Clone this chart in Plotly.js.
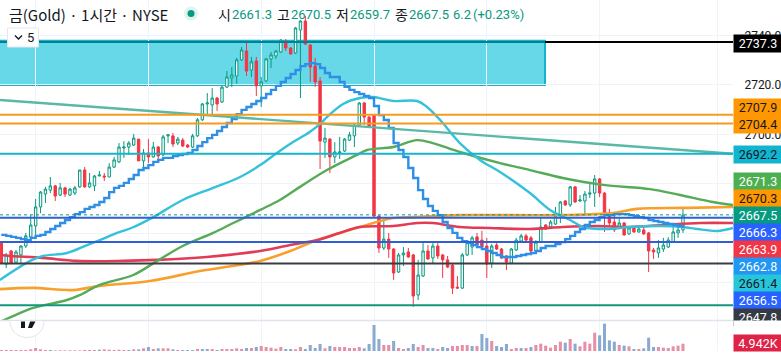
<!DOCTYPE html>
<html><head><meta charset="utf-8">
<script src="https://cdn.plot.ly/plotly-3.0.1.min.js"></script>
<style>html,body{margin:0;padding:0;background:#fff;overflow:hidden}#c{width:781px;height:353px}</style>
</head><body><div id="c"></div>
<script>
const opens=[2656.1,2647.6,2652.9,2648.4,2651.3,2654.9,2658.6,2663.0,2670.7,2675.9,2677.5,2679.2,2675.5,2678.4,2675.5,2676.3,2678.8,2685.6,2678.8,2679.2,2683.2,2683.2,2682.8,2686.8,2688.9,2694.5,2694.9,2695.7,2698.1,2689.3,2692.5,2690.9,2694.9,2691.7,2699.4,2699.4,2696.5,2697.7,2695.7,2694.9,2699.4,2705.9,2712.3,2711.9,2714.7,2713.1,2719.1,2722.8,2723.6,2730.1,2733.7,2726.0,2729.7,2719.6,2721.6,2730.5,2731.7,2733.3,2737.7,2734.9,2732.9,2742.2,2745.8,2736.1,2727.6,2721.6,2696.9,2698.1,2690.9,2692.5,2693.3,2697.7,2699.4,2703.8,2712.7,2707.0,2707.8,2667.0,2654.1,2657.7,2653.7,2644.4,2651.3,2652.5,2651.3,2635.1,2642.8,2652.9,2650.1,2654.9,2651.3,2649.3,2647.2,2638.3,2637.9,2651.3,2654.5,2658.6,2657.3,2654.9,2648.0,2655.3,2653.7,2650.9,2648.0,2653.3,2656.9,2659.0,2658.2,2652.9,2656.5,2663.4,2662.6,2663.8,2667.4,2673.1,2671.5,2678.8,2673.1,2673.1,2675.9,2676.3,2682.0,2676.3,2667.4,2664.6,2662.2,2664.2,2659.8,2662.2,2660.6,2661.4,2660.2,2653.3,2652.1,2653.7,2654.5,2656.5,2660.2,2661.4];
const highs=[2656.1,2652.1,2653.3,2653.3,2655.3,2660.2,2667.4,2673.9,2677.1,2678.8,2682.8,2679.6,2680.4,2678.8,2678.4,2679.2,2685.6,2686.8,2684.4,2683.6,2685.2,2684.4,2688.4,2690.9,2696.5,2697.3,2697.3,2700.2,2698.1,2694.1,2698.1,2696.9,2695.3,2699.8,2700.2,2700.6,2699.0,2698.5,2696.1,2700.2,2706.6,2712.7,2716.7,2718.7,2715.1,2719.6,2725.6,2727.2,2730.9,2735.3,2736.9,2731.3,2731.3,2723.2,2730.9,2733.3,2734.1,2738.5,2738.5,2735.3,2743.4,2746.2,2747.8,2736.5,2730.9,2723.2,2702.6,2698.5,2696.9,2699.0,2698.5,2701.0,2704.2,2713.1,2713.1,2707.4,2708.2,2667.4,2665.4,2660.2,2654.1,2652.1,2654.5,2654.1,2651.7,2649.3,2656.5,2655.3,2656.1,2656.1,2651.7,2650.9,2647.6,2642.8,2652.1,2657.3,2659.0,2660.2,2661.0,2658.2,2655.7,2656.1,2654.1,2651.3,2654.1,2658.2,2659.8,2659.8,2659.0,2657.3,2666.2,2663.8,2665.4,2670.7,2673.1,2673.5,2679.2,2679.2,2675.5,2677.1,2680.4,2683.6,2682.4,2676.7,2669.9,2668.2,2666.2,2664.6,2663.0,2663.0,2662.6,2663.0,2660.6,2654.1,2657.3,2658.2,2658.5,2663.0,2663.4,2670.7];
const lows=[2648.0,2646.0,2647.6,2648.0,2648.0,2654.1,2658.2,2659.4,2668.2,2672.3,2676.3,2673.1,2675.1,2674.7,2675.1,2675.5,2678.4,2678.4,2678.4,2677.1,2683.2,2681.2,2682.8,2686.4,2688.4,2690.5,2691.7,2695.3,2689.3,2686.8,2688.4,2690.5,2688.4,2691.3,2696.5,2694.9,2695.7,2694.9,2694.5,2694.5,2699.0,2705.4,2707.8,2707.8,2709.5,2712.7,2718.7,2719.1,2720.4,2729.7,2723.6,2723.2,2715.5,2711.1,2721.2,2726.8,2730.5,2732.9,2733.7,2732.1,2732.5,2714.7,2736.1,2721.2,2719.2,2686.0,2690.5,2684.4,2688.4,2690.1,2692.9,2697.3,2694.9,2703.4,2703.8,2702.6,2666.6,2652.1,2653.3,2650.1,2641.2,2644.0,2646.8,2650.1,2630.3,2633.1,2642.4,2649.3,2647.6,2649.7,2642.0,2646.0,2635.5,2637.9,2637.5,2650.9,2651.3,2654.9,2654.1,2642.0,2646.0,2653.3,2649.7,2645.2,2647.6,2652.9,2656.5,2656.9,2652.5,2652.5,2656.1,2661.4,2662.2,2663.4,2664.2,2671.1,2670.7,2672.3,2672.7,2667.4,2674.3,2670.7,2674.7,2660.6,2662.6,2660.6,2661.8,2659.0,2659.4,2660.2,2660.2,2659.4,2644.4,2649.7,2650.1,2652.5,2654.1,2656.1,2658.2,2660.2];
const closes=[2648.0,2651.3,2648.0,2652.5,2654.9,2659.0,2663.4,2670.7,2676.7,2677.9,2679.2,2675.1,2678.4,2675.9,2677.9,2678.4,2685.6,2678.8,2680.4,2683.2,2683.6,2682.8,2686.8,2689.7,2694.9,2694.9,2696.5,2698.5,2689.3,2692.5,2690.9,2694.9,2691.3,2699.0,2699.8,2696.1,2698.1,2695.3,2694.9,2699.4,2705.9,2712.3,2712.7,2714.7,2712.3,2719.1,2723.2,2724.0,2730.1,2734.1,2725.6,2729.3,2719.6,2721.2,2730.5,2732.1,2733.7,2738.1,2734.9,2732.5,2743.0,2745.8,2736.5,2727.2,2721.2,2697.3,2698.5,2690.9,2692.9,2692.9,2698.1,2699.8,2703.8,2712.7,2707.0,2703.0,2667.0,2654.1,2657.7,2653.7,2644.0,2651.3,2652.1,2650.5,2634.7,2643.2,2652.9,2649.7,2654.9,2650.9,2649.3,2646.4,2637.9,2637.9,2651.3,2656.5,2658.2,2655.3,2654.5,2647.6,2654.9,2653.7,2650.1,2648.4,2653.7,2657.3,2659.0,2657.3,2652.9,2656.5,2662.6,2661.8,2664.6,2667.0,2672.7,2671.5,2678.8,2672.7,2673.5,2675.9,2676.3,2682.0,2676.3,2667.4,2664.2,2661.4,2664.2,2659.4,2662.2,2660.6,2661.8,2659.8,2652.9,2652.5,2654.1,2655.3,2657.3,2660.6,2661.4,2667.4];
const volumes=[675,675,675,675,675,675,1125,2025,1125,675,675,450,450,450,450,450,450,675,675,675,900,1125,900,675,900,675,675,1125,1125,1800,2700,1350,1800,1800,1800,1125,675,675,675,675,1350,1350,1350,1350,675,1350,1350,1350,1800,1350,2025,2025,2700,3375,2700,2250,1575,2700,1350,1350,1125,2700,1350,4050,2025,4725,1800,3375,2700,2700,2700,2025,2025,2700,1800,4725,17550,8100,4050,4050,6750,2025,1350,2025,4725,2700,4050,2025,2025,1350,2700,2025,3375,3375,4050,4050,3375,3375,11475,8775,6750,3375,2700,4725,1350,2025,2025,2025,2700,4050,4950,3600,2250,4050,6300,5625,8100,4950,3150,6300,4950,12375,10575,18450,7200,6300,4050,3600,3150,1350,1350,1800,9000,2700,2700,2250,2025,3150,3600,4942];
const volumeUp=[0,0,0,0,0,0,0,0,0,0,1,0,0,0,0,1,0,0,0,0,1,0,0,0,0,0,1,0,1,0,1,0,1,0,0,1,0,1,1,1,0,1,1,0,1,0,0,0,0,0,1,0,1,0,0,0,0,0,1,1,0,0,1,1,1,1,0,1,0,0,0,0,0,0,1,1,1,1,0,0,1,0,0,1,1,0,0,1,1,0,1,1,0,0,0,0,1,0,1,1,0,1,1,1,0,0,1,0,1,0,0,0,0,0,0,1,0,1,0,0,0,0,1,1,1,1,0,1,0,1,0,1,1,1,0,0,0,0,0,0];
const stepLine=[2659.4,2659.0,2658.6,2658.2,2657.7,2657.3,2658.2,2659.0,2659.4,2660.6,2661.8,2663.0,2664.2,2665.4,2666.6,2667.8,2668.6,2669.9,2670.7,2671.5,2672.7,2674.3,2676.7,2678.4,2679.2,2680.4,2682.0,2683.6,2685.6,2686.4,2687.6,2688.9,2689.7,2690.5,2690.5,2691.3,2691.7,2692.1,2692.5,2693.7,2695.3,2696.9,2698.5,2699.8,2701.4,2703.0,2704.6,2706.2,2708.2,2709.9,2711.1,2712.3,2713.5,2714.7,2716.3,2718.0,2719.6,2721.2,2722.8,2724.4,2726.0,2727.6,2728.4,2728.8,2728.4,2726.8,2724.8,2723.2,2723.2,2721.2,2719.2,2718.0,2717.1,2716.3,2715.5,2714.7,2711.5,2707.8,2705.8,2702.6,2696.5,2693.7,2690.9,2686.4,2682.4,2677.5,2673.9,2671.1,2669.1,2667.4,2664.6,2662.2,2660.2,2658.2,2656.9,2656.1,2655.3,2654.5,2653.7,2652.9,2652.1,2651.3,2650.5,2650.5,2650.5,2650.9,2651.3,2651.7,2652.1,2652.9,2654.1,2654.9,2654.9,2655.7,2656.5,2657.7,2659.0,2660.6,2661.8,2663.4,2664.6,2665.4,2666.6,2667.4,2667.4,2667.8,2667.8,2667.8,2667.4,2667.0,2666.6,2666.2,2665.4,2665.0,2664.6,2664.2,2663.8,2663.4,2663.0,2662.2];
const cyanX=[-0.3,5.9,8.5,13.4,17.5,20.1,23.6,26.9,31,37,43.2,48.7,52.8,56.2,59.5,62.9,65.4,66.4,69.7,73.1,75.8,79.9,84.8,86.8,89.5,93.5,97.6,101.7,107.8,111.9,116,118.6,123.5,128.2,134.3,139,141.9,146,149.2];
const cyanP=[2641.2,2648.9,2650.9,2652.1,2655.3,2657.3,2660.2,2662.5,2666.6,2673.5,2678.4,2682.8,2687.6,2692.5,2696.9,2701,2705,2707,2712.3,2714.7,2715.1,2713.5,2713.5,2711.1,2705.8,2696.5,2689.7,2684.8,2676.3,2669.5,2665.4,2662.6,2661.8,2662.6,2663,2662.6,2661.8,2661,2662.2];
const greenX=[-0.3,2.4,6.5,13.4,16,20.1,26.9,31.8,37,43.2,47.3,52.8,56.8,60.9,66.4,72.5,74.6,79.9,84.8,88,93.5,101.7,107.8,114.5,122.7,132.3,138.4,145.1,149.2];
const greenP=[2624.2,2626.6,2629.9,2633.1,2635.1,2639.2,2643.2,2648.9,2654.9,2660.2,2664.2,2669.5,2673.5,2678.8,2685.6,2691.7,2693.7,2694.9,2697.7,2696.5,2692.9,2688.4,2685.6,2682.4,2679.6,2677.9,2675.5,2672.7,2671.5];
const orangeX=[-0.3,6.5,14.6,20.1,30.3,40.5,52.8,58.9,64.4,69.7,73.1,79.9,84,93.5,113.9,124.7,129.6,139.8,149.2];
const orangeP=[2637.5,2638,2637.1,2638.8,2640.8,2644.8,2648.9,2652.9,2657.3,2660.6,2662.6,2666.2,2666.6,2667.4,2667.4,2668.2,2669.9,2670.3,2670.7];
const redX=[-0.3,1.8,8.5,15.4,24.8,31.8,41.9,52.8,58.9,64.4,69,73.1,79.9,84.8,88,93.5,99.6,107.8,114.5,121.5,128.2,135,142.5,149.2];
const redP=[2651.3,2650.9,2650.1,2648.9,2648.9,2649.3,2650.5,2652.9,2655.3,2657.3,2660.2,2662.6,2663,2664.2,2664.2,2662.6,2662.2,2661.8,2662.6,2663,2662.6,2663.4,2664.2,2664.2];
const levelLines=[[2704.4,'#f39c1f'],[2707.9,'#f39c1f'],[2692.2,'#17b3c9'],[2666.3,'#2f5fd6'],[2656.5,'#2f5fd6'],[2647.8,'#3b3d45'],[2631.0,'#13967c']];
const priceTicks=[2640,2660,2680,2700,2720,2740];
const priceTickText=['','','','2700.0','2720.0','2740.0'];
const axisBoxes=[['2737.3',43.5,'#000000','#ffffff'],['2707.9',107.5,'#ff9800','#131722'],['2704.4',124.5,'#ff9800','#131722'],['2692.2',154.5,'#12b5d0','#131722'],['2671.3',181.5,'#4caf50','#ffffff'],['2670.3',198.5,'#ff9800','#131722'],['2667.5',215.5,'#089981','#ffffff'],['2666.3',232.5,'#2962ff','#ffffff'],['2663.9',249.5,'#f23645','#ffffff'],['2662.8',266.5,'#2196f3','#ffffff'],['2661.4',283.5,'#26c6da','#131722'],['2656.5',300.5,'#2962ff','#ffffff'],['2647.8',317.5,'#363a45','#ffffff']];
const headerParts=[['금(Gold) · 1시간 · NYSE',8,'#131722',15],['시',217,'#131722',14],['2661.3',231,'#089981',13],['고',276,'#131722',14],['2670.5',290,'#089981',13],['저',335,'#131722',14],['2659.7',349,'#089981',13],['종',394,'#131722',14],['2667.5',408,'#089981',13],['6.2',452,'#089981',13],['(+0.23%)',472,'#089981',13]];

const W=733,H=353;
const px=x=>x/W, py=y=>1-y/H;
const xs=opens.map((_,i)=>i);
const xAxis={range:[-0.265,149.2],showgrid:true,gridcolor:'#f0f3fa',gridwidth:1,tickmode:'array',tickvals:[7,30,53,76,99,122,146],showticklabels:false,ticks:'',zeroline:false,showline:false,rangeslider:{visible:false},fixedrange:true};
const font='Roboto, "Noto Sans CJK KR", sans-serif';
const hdrFont='"Noto Sans CJK KR", Roboto, sans-serif';

const traces=[
 {type:'bar',x:xs,y:volumes,xaxis:'x2',yaxis:'y2',marker:{color:volumeUp.map(u=>u?'#8aabd0':'#e68fa6'),line:{width:0}},hoverinfo:'skip'},
 {type:'candlestick',x:xs,open:opens,high:highs,low:lows,close:closes,whiskerwidth:0,
  increasing:{line:{color:'#089981',width:1},fillcolor:'#ffffff'},
  decreasing:{line:{color:'#f23645',width:1},fillcolor:'#f23645'},hoverinfo:'skip'},
 {type:'scatter',mode:'lines',x:orangeX,y:orangeP,line:{color:'#f7a12c',width:2.6,shape:'spline'},hoverinfo:'skip'},
 {type:'scatter',mode:'lines',x:redX,y:redP,line:{color:'#e23c55',width:2.6,shape:'spline'},hoverinfo:'skip'},
 {type:'scatter',mode:'lines',x:greenX,y:greenP,line:{color:'#56ab58',width:2.4,shape:'spline'},hoverinfo:'skip'},
 {type:'scatter',mode:'lines',x:cyanX,y:cyanP,line:{color:'#35c1da',width:2.4,shape:'spline'},hoverinfo:'skip'},
 {type:'scatter',mode:'lines',x:xs,y:stepLine,line:{color:'#2f8fe6',width:2.4,shape:'hv'},hoverinfo:'skip'}
];

const shapes=[
 {type:'rect',layer:'below',xref:'paper',yref:'y',x0:-0.01,x1:px(545),y0:2720,y1:2737.8,fillcolor:'#66d8e8',line:{color:'#12b5cb',width:2}},
 {type:'line',xref:'paper',yref:'y',x0:0,x1:px(545),y0:2737.3,y1:2737.3,line:{color:'#00838f',width:2}},
 {type:'line',xref:'paper',yref:'y',x0:px(545),x1:1,y0:2737.3,y1:2737.3,line:{color:'#000000',width:2}},
 {type:'line',xref:'paper',yref:'y',x0:0,x1:1,y0:2713.9,y1:2692.2,line:{color:'#58b9a6',width:2.4}},
 {type:'line',xref:'paper',yref:'y',x0:0,x1:1,y0:2667.5,y1:2667.5,line:{color:'#089981',width:1,dash:'dot'}},
 {type:'line',xref:'paper',yref:'paper',x0:0,x1:1,y0:py(320.5),y1:py(320.5),line:{color:'#e0e3eb',width:1.5}},
 {type:'path',xref:'paper',yref:'paper',fillcolor:'#ffffff',line:{color:'#e6e6ea',width:1},
  path:`M ${px(10)} ${py(321)} C ${px(10)} ${py(343)} ${px(44)} ${py(343)} ${px(44)} ${py(321)}`},
 {type:'path',xref:'paper',yref:'paper',fillcolor:'#131722',line:{width:0},
  path:`M ${px(21)} ${py(321.5)} L ${px(25)} ${py(321.5)} L ${px(25)} ${py(328)} L ${px(21)} ${py(328)} Z`},
 {type:'path',xref:'paper',yref:'paper',fillcolor:'#131722',line:{width:0},
  path:`M ${px(30)} ${py(321.5)} L ${px(35.5)} ${py(321.5)} L ${px(32)} ${py(328)} L ${px(28)} ${py(328)} Z`},
 {type:'circle',xref:'paper',yref:'paper',x0:px(184),x1:px(198),y0:py(20.5),y1:py(6.5),fillcolor:'#dff3ef',line:{width:0}},
 {type:'circle',xref:'paper',yref:'paper',x0:px(187.5),x1:px(194.5),y0:py(17),y1:py(10),fillcolor:'#089981',line:{width:0}},
 {type:'rect',xref:'paper',yref:'paper',x0:px(7.5),x1:px(38.5),y0:py(47),y1:py(28),fillcolor:'#ffffff',line:{color:'#e4e6ec',width:1}},
 {type:'path',xref:'paper',yref:'paper',line:{color:'#131722',width:1.4},
  path:`M ${px(15)} ${py(35.5)} L ${px(18.5)} ${py(39)} L ${px(22)} ${py(35.5)}`}
];
levelLines.forEach(([p,col])=>shapes.push({type:'line',xref:'paper',yref:'y',x0:0,x1:1,y0:p,y1:p,line:{color:col,width:2}}));

const annotations=[];
axisBoxes.forEach(([t,yc,bg,fg])=>annotations.push({xref:'paper',yref:'paper',x:1,y:py(yc),xanchor:'left',yanchor:'middle',width:48,height:17,borderpad:0,align:'center',valign:'middle',showarrow:false,bgcolor:bg,text:t,font:{family:font,size:12.5,color:fg}}));
annotations.push({xref:'paper',yref:'paper',x:1,y:py(320),xanchor:'left',yanchor:'top',width:48,height:14,borderpad:0,showarrow:false,bgcolor:'#ffffff',text:' ',font:{size:10}});
annotations.push({xref:'paper',yref:'paper',x:1,y:py(343),xanchor:'left',yanchor:'middle',width:48,height:16,borderpad:0,showarrow:false,bgcolor:'#de2347',text:'4.942K',font:{family:font,size:12.5,color:'#ffffff'}});
headerParts.forEach(([t,x,col,s])=>annotations.push({xref:'paper',yref:'paper',x:px(x),y:py(14),xanchor:'left',yanchor:'middle',showarrow:false,text:t,borderpad:0,font:{family:s===13?font:hdrFont,size:s,color:col}}));
annotations.push({xref:'paper',yref:'paper',x:px(30),y:py(37.5),xanchor:'center',yanchor:'middle',showarrow:false,borderpad:0,text:'5',font:{family:font,size:13,color:'#131722'}});

Plotly.newPlot('c',traces,{
 width:781,height:353,margin:{l:0,r:48,t:0,b:0,pad:0},paper_bgcolor:'#ffffff',plot_bgcolor:'#ffffff',showlegend:false,bargap:0.38,
 xaxis:Object.assign({anchor:'y'},xAxis),
 xaxis2:Object.assign({anchor:'y2',matches:'x'},xAxis),
 yaxis:{domain:[33/353,1],range:[2625.02,2754.3],side:'right',tickmode:'array',tickvals:priceTicks,ticktext:priceTickText,tickfont:{family:font,size:12,color:'#131722'},ticks:'outside',ticklen:8,tickcolor:'rgba(0,0,0,0)',gridcolor:'#f0f3fa',gridwidth:1,zeroline:false,showline:false,fixedrange:true,automargin:false},
 yaxis2:{domain:[2/353,33/353],range:[0,20925],showgrid:false,showticklabels:false,ticks:'',zeroline:false,showline:false,fixedrange:true},
 shapes,annotations
},{staticPlot:true,displayModeBar:false});
</script></body></html>
